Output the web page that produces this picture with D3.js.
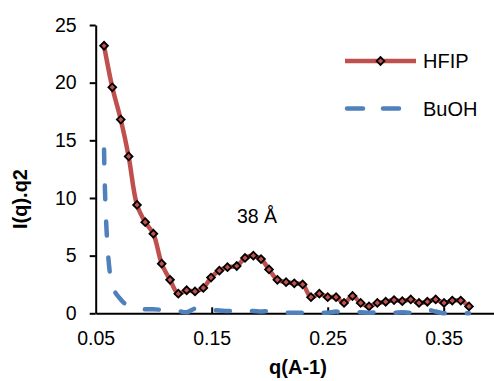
<html>
<head>
<style>
  body { margin: 0; background: #fff; }
  text { font-family: Arial, "Liberation Sans", sans-serif; fill: #000; }
</style>
</head>
<body>
<svg width="494" height="381"></svg>
<script src="https://d3js.org/d3.v7.min.js"></script>
<script>
// q values (A^-1), shared by both series
var qVals = [0.0572, 0.0643, 0.0716, 0.0784, 0.0856, 0.0927, 0.0997, 0.1069, 0.1141, 0.1212,
             0.1284, 0.1356, 0.1428, 0.1494, 0.1566, 0.1636, 0.1716, 0.1787, 0.1859, 0.1925,
             0.1994, 0.2066, 0.2141, 0.2212, 0.2284, 0.2356, 0.2428, 0.2500, 0.2572, 0.2641,
             0.2714, 0.2784, 0.2856, 0.2928, 0.3000, 0.3072, 0.3143, 0.3216, 0.3287, 0.3359,
             0.3431, 0.3503, 0.3574, 0.3647, 0.3718];

var hfip = [23.2, 19.6, 16.8, 13.6, 9.4, 7.9, 6.9, 4.3, 2.9, 1.7,
            2.0, 1.9, 2.2, 3.1, 3.7, 4.0, 4.1, 4.8, 5.0, 4.7,
            3.8, 2.9, 2.7, 2.6, 2.5, 1.4, 1.7, 1.4, 1.4, 0.9,
            1.5, 0.9, 0.6, 0.9, 1.0, 1.15, 1.05, 1.2, 0.9, 1.0,
            1.2, 0.9, 1.1, 1.1, 0.6];

var buoh = [14.2, 2.4, 1.2, 0.6, 0.4, 0.35, 0.35, 0.3, 0.25, 0.2,
            0.1, 0.4, 0.3, 0.3, 0.25, 0.2, 0.2, 0.2, 0.2, 0.15,
            0.2, 0.1, 0.05, 0.05, 0.05, 0.1, 0.05, 0.05, 0.15, 0.05,
            0.05, 0.1, 0.05, 0.1, 0.05, 0.05, 0.1, 0.05, 0.1, 0.3,
            0.15, 0.0, 0.0, 0.0, 0.0];

var xTicks = [0.05, 0.15, 0.25, 0.35];
var yTicks = [0, 5, 10, 15, 20, 25];
var seriesNames = ["HFIP", "BuOH"];

var red = "#C0504D", blue = "#4F81BD";

var svg = d3.select("svg");

var x = d3.scaleLinear().domain([0.05, 0.4]).range([95.7, 501.7]);
var y = d3.scaleLinear().domain([0, 25]).range([313.3, 25]);

var hData = qVals.map(function(q, i){ return { q: q, v: hfip[i] }; });
var bData = qVals.map(function(q, i){ return { q: q, v: buoh[i] }; });

// axes
var yAxis = svg.append("g")
  .attr("transform", "translate(" + x(0.05) + ",0)")
  .call(d3.axisLeft(y).tickValues(yTicks).tickSizeInner(6).tickSizeOuter(0).tickPadding(13));

var xAxis = svg.append("g")
  .attr("transform", "translate(0," + y(0) + ")")
  .call(d3.axisBottom(x).tickValues(xTicks).tickFormat(d3.format(".2f"))
        .tickSizeInner(-6).tickSizeOuter(0).tickPadding(18));

[xAxis, yAxis].forEach(function(a){
  a.select(".domain").attr("stroke", "#000").attr("stroke-width", 2);
  a.selectAll(".tick line").attr("stroke", "#000").attr("stroke-width", 2);
  a.selectAll(".tick text").attr("font-size", 19.5).attr("font-family", "Arial, 'Liberation Sans', sans-serif").attr("fill", "#000");
});
// 0.05 tick sits on the y axis; hide its inner mark
xAxis.selectAll(".tick").filter(function(d){ return d === 0.05; }).select("line").remove();

// axis titles
svg.append("text")
  .attr("x", 298).attr("y", 374)
  .attr("text-anchor", "middle")
  .attr("font-size", 20).attr("font-weight", "bold")
  .text("q(A-1)");

svg.append("text")
  .attr("transform", "translate(27,199) rotate(-90)")
  .attr("text-anchor", "middle")
  .attr("font-size", 20).attr("font-weight", "bold")
  .text("I(q).q2");

// lines
var line = d3.line()
  .x(function(d){ return x(d.q); })
  .y(function(d){ return y(d.v); })
  .curve(d3.curveCatmullRom.alpha(0.5));

svg.append("path")
  .datum(hData)
  .attr("d", line)
  .attr("fill", "none")
  .attr("stroke", red)
  .attr("stroke-width", 4.5)
  .attr("stroke-linejoin", "round");

var diamond = d3.symbol().type(d3.symbolSquare).size(30);

svg.append("g").selectAll("path")
  .data(hData)
  .enter().append("path")
  .attr("d", diamond)
  .attr("transform", function(d){ return "translate(" + x(d.q) + "," + y(d.v) + ") rotate(45)"; })
  .attr("fill", red)
  .attr("stroke", "#000")
  .attr("stroke-width", 1.8);

svg.append("path")
  .datum(bData)
  .attr("d", line)
  .attr("fill", "none")
  .attr("stroke", blue)
  .attr("stroke-width", 4.5)
  .attr("stroke-linecap", "round")
  .attr("stroke-dasharray", "14,22");

// annotation
svg.append("text")
  .attr("x", 257).attr("y", 223)
  .attr("text-anchor", "middle")
  .attr("font-size", 19.5)
  .text("38 Å");

// legend
var leg = svg.append("g");
leg.append("line")
  .attr("x1", 345).attr("x2", 416).attr("y1", 61).attr("y2", 61)
  .attr("stroke", red).attr("stroke-width", 4.5);
leg.append("path")
  .attr("d", diamond)
  .attr("transform", "translate(380.5,61) rotate(45)")
  .attr("fill", red).attr("stroke", "#000").attr("stroke-width", 1.8);
leg.append("line")
  .attr("x1", 347).attr("x2", 400).attr("y1", 108.5).attr("y2", 108.5)
  .attr("stroke", blue).attr("stroke-width", 4.5)
  .attr("stroke-linecap", "round").attr("stroke-dasharray", "16,20");

leg.selectAll("text.lab")
  .data(seriesNames)
  .enter().append("text")
  .attr("class", "lab")
  .attr("x", 423)
  .attr("y", function(d, i){ return i === 0 ? 61 : 108.5; })
  .attr("dy", "0.35em")
  .attr("font-size", 20)
  .text(function(d){ return d; });
</script>
</body>
</html>
